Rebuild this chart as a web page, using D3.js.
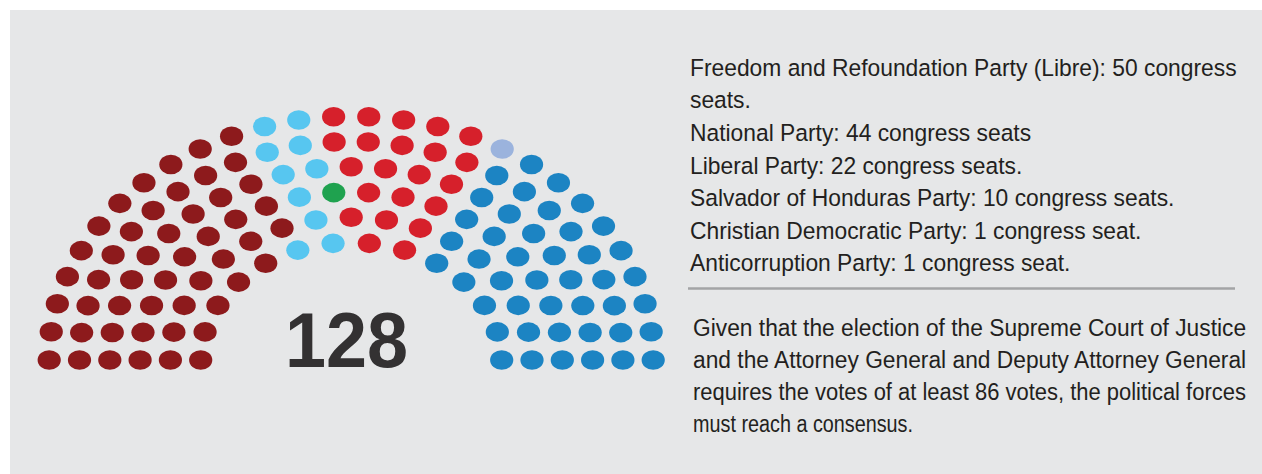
<!DOCTYPE html>
<html>
<head>
<meta charset="utf-8">
<script src="https://cdn.jsdelivr.net/npm/d3@7"></script>
<style>
  body { margin: 0; background: #fff; }
  svg { display: block; }
</style>
</head>
<body>
<svg id="chart" width="1262" height="474"></svg>
<script>
// parties in seat order, left to right round the hemicycle
const parties = ['Libre', 'Salvador of Honduras', 'Christian Democratic', 'Liberal', 'Anticorruption', 'National'];
const seats = [50, 10, 1, 22, 1, 44];
const colors = ['#8d1a1c', '#57c6f0', '#1fa24f', '#d6202b', '#9bb3dd', '#1c84c3'];
// seats per ring, inner to outer
const ringSeats = [14, 17, 20, 23, 26, 28];
const totalLabel = '128';

const legendLines = [
  'Freedom and Refoundation Party (Libre): 50 congress',
  'seats.',
  'National Party: 44 congress seats',
  'Liberal Party: 22 congress seats.',
  'Salvador of Honduras Party: 10 congress seats.',
  'Christian Democratic Party: 1 congress seat.',
  'Anticorruption Party: 1 congress seat.'
];
const noteLines = [
  'Given that the election of the Supreme Court of Justice',
  'and the Attorney General and Deputy Attorney General',
  'requires the votes of at least 86 votes, the political forces',
  'must reach a consensus.'
];

const svg = d3.select('#chart');

// grey panel
svg.append('rect')
  .attr('x', 10).attr('y', 10)
  .attr('width', 1252).attr('height', 464)
  .attr('fill', '#e6e7e8');

// hemicycle geometry
const cx = 351.2, cy = 360;
const rx = d3.scaleLinear().domain([0, ringSeats.length - 1]).range([150.5, 302]);
const ry = d3.scaleLinear().domain([0, ringSeats.length - 1]).range([117.5, 243.7]);

let allSeats = [];
ringSeats.forEach((n, ring) => {
  const angle = d3.scaleLinear().domain([0, n - 1]).range([Math.PI, 0]);
  d3.range(n).forEach(j => {
    const a = angle(j);
    allSeats.push({
      ring: ring,
      angle: a,
      x: cx + rx(ring) * Math.cos(a),
      y: cy - ry(ring) * Math.sin(a)
    });
  });
});

// fill seats by angle, left first
allSeats.sort((a, b) => (b.angle - a.angle) || (a.ring - b.ring));

const partyOf = [];
seats.forEach((s, i) => { for (let k = 0; k < s; k++) partyOf.push(i); });
allSeats.forEach((d, i) => { d.party = partyOf[i]; });

const color = d3.scaleOrdinal().domain(d3.range(parties.length)).range(colors);

svg.append('g')
  .selectAll('ellipse')
  .data(allSeats)
  .join('ellipse')
  .attr('cx', d => d.x)
  .attr('cy', d => d.y)
  .attr('rx', 11.6)
  .attr('ry', 9.8)
  .attr('fill', d => color(d.party));

// big total
svg.append('text')
  .attr('x', 346.5).attr('y', 366.5)
  .attr('text-anchor', 'middle')
  .attr('font-family', 'Liberation Sans, Arial, sans-serif')
  .attr('font-weight', 'bold')
  .attr('font-size', 78)
  .attr('textLength', 123)
  .attr('lengthAdjust', 'spacingAndGlyphs')
  .attr('fill', '#333132')
  .text(totalLabel);

const font = '"Liberation Sans Narrow", "Liberation Sans", Arial, sans-serif';

// legend text
const legend = svg.append('g')
  .attr('font-family', font)
  .attr('font-size', 23.3)
  .attr('fill', '#231f20');

const legendText = legend.selectAll('text')
  .data(legendLines)
  .join('text')
  .attr('x', 0)
  .attr('y', 0)
  .text(d => d);

// squeeze to the reference width if the fallback font runs wide
const lf = Math.min(1, 547 / legendText.node().getComputedTextLength());
legendText.attr('transform', (d, i) => `translate(690,${75.7 + i * 32.6}) scale(${lf},1)`);

// divider
svg.append('line')
  .attr('x1', 688).attr('x2', 1235)
  .attr('y1', 288.5).attr('y2', 288.5)
  .attr('stroke', '#a3a4a6')
  .attr('stroke-width', 2.5);

// note paragraph: each line condensed to its width, first three justified
const noteWidths = noteLines.map((d, i) => i < noteLines.length - 1 ? 553 : 220);

const note = svg.append('g')
  .attr('font-family', font)
  .attr('font-size', 24.7)
  .attr('fill', '#231f20');

note.selectAll('text')
  .data(noteLines)
  .join('text')
  .attr('x', 0)
  .attr('y', 0)
  .text(d => d)
  .attr('transform', function (d, i) {
    const s = noteWidths[i] / this.getComputedTextLength();
    return `translate(693,${336 + i * 32}) scale(${s},1)`;
  });
</script>
</body>
</html>
